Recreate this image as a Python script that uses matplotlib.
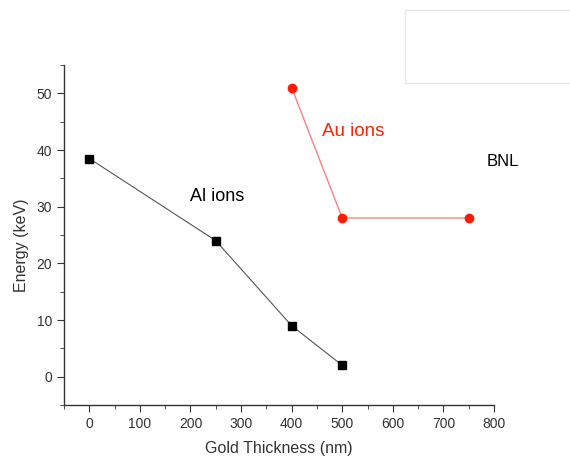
import matplotlib
matplotlib.use("Agg")
import matplotlib.pyplot as plt
from matplotlib.ticker import MultipleLocator
from matplotlib.patches import Rectangle

plt.rcParams['font.family'] = ['Liberation Sans', 'DejaVu Sans']

al_x = [0, 250, 400, 500]
al_y = [38.5, 24, 9, 2]
au_x = [400, 500, 750]
au_y = [51, 28, 28]

fig = plt.figure(figsize=(5.7, 4.57), dpi=100)
ax = fig.add_axes([64/570, 52/457, 430/570, 340/457])

ax.plot(al_x, al_y, color='#555555', lw=0.8, marker='s', ms=5.5, mfc='black', mec='black')
ax.plot(au_x, au_y, color='#ff8080', lw=1.0, marker='o', ms=6, mfc='#ff1a00', mec='#ff1a00')

ax.text(252, 31.8, 'Al ions', fontsize=13, color='black', ha='center', va='center')
ax.text(522, 43.3, 'Au ions', fontsize=13.5, color='#ff2200', ha='center', va='center')
ax.text(818, 38, 'BNL', fontsize=12, color='black', ha='center', va='center')

ax.set_xlim(-50, 800)
ax.set_ylim(-5, 55)
ax.xaxis.set_major_locator(MultipleLocator(100))
ax.xaxis.set_minor_locator(MultipleLocator(50))
ax.yaxis.set_major_locator(MultipleLocator(10))
ax.yaxis.set_minor_locator(MultipleLocator(5))
for s in ['top', 'right']:
    ax.spines[s].set_visible(False)
for s in ['left', 'bottom']:
    ax.spines[s].set_color('#333333')
    ax.spines[s].set_linewidth(1.0)
ax.tick_params(which='major', length=5, direction='out', labelsize=10, colors='#333333')
ax.tick_params(which='minor', length=3, direction='out', colors='#333333')
ax.set_xlabel('Gold Thickness (nm)', fontsize=11.5, color='#333333', labelpad=7)
ax.set_ylabel('Energy (keV)', fontsize=11.5, color='#333333')
ax.yaxis.set_label_coords(-0.081, 0.47)

fig.patches.append(Rectangle((405/570, 1-83/457), 170/570, 73/457, transform=fig.transFigure,
                             fill=False, edgecolor='#e8e8e8', lw=1.0))

fig.savefig('out.png', dpi=100)
